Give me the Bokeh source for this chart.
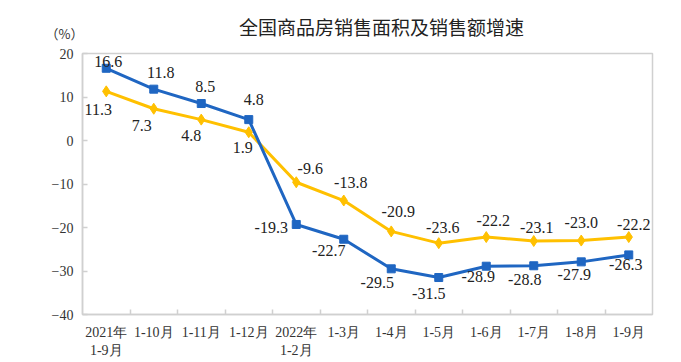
from bokeh.plotting import figure
from bokeh.models import Range1d, FixedTicker, ColumnDataSource, Label
from bokeh.embed import file_html
from bokeh.resources import INLINE
from bokeh.core.properties import value

# ---- data ----
categories = ["2021年\n1-9月", "1-10月", "1-11月", "1-12月", "2022年\n1-2月", "1-3月",
              "1-4月", "1-5月", "1-6月", "1-7月", "1-8月", "1-9月"]
area_growth = [16.6, 11.8, 8.5, 4.8, -19.3, -22.7, -29.5, -31.5, -28.9, -28.8, -27.9, -26.3]
sales_growth = [11.3, 7.3, 4.8, 1.9, -9.6, -13.8, -20.9, -23.6, -22.2, -23.1, -23.0, -22.2]
y_ticks = [-40, -30, -20, -10, 0, 10, 20]
title_text = "全国商品房销售面积及销售额增速"
unit_text = "（%）"

# ---- label placement (pixel offsets) ----
area_dx = [2, 7, 4, 5, -25, -15, -14, -10, -8, -9, -7, -3]
area_dy = [-7, -17, -17, -20, 3, 11, 14, 16, 10, 14, 13, 10]
sales_dx = [-8, -12, -10, -6, 14, 7, 7, 4, 7, 3, 0, 5]
sales_dy = [18, 17, 16, 15, -14, -18, -20, -16, -17, -13, -18, -13]

BLUE = "#1F66C2"
YELLOW = "#FFC000"
GRAY = "#d0d0d0"
SERIF = "Liberation Serif"

xs = [i + 0.5 for i in range(len(categories))]

p = figure(width=681, height=362, output_backend="svg", toolbar_location=None,
           x_range=Range1d(0, len(categories)), y_range=Range1d(min(y_ticks), max(y_ticks)),
           min_border_left=82, min_border_right=29, min_border_top=53, min_border_bottom=48)
p.background_fill_color = "white"
p.border_fill_color = "white"
p.outline_line_color = GRAY
p.outline_line_width = 1.5
p.xgrid.visible = False
p.ygrid.visible = False

# x axis: labels at category centres, ticks at category boundaries
p.xaxis.ticker = FixedTicker(ticks=xs, minor_ticks=list(range(1, len(categories))))
p.xaxis.major_label_overrides = {x: c for x, c in zip(xs, categories)}
p.xaxis.major_tick_line_color = None
p.xaxis.minor_tick_in = 5
p.xaxis.minor_tick_out = 0
p.xaxis.minor_tick_line_color = GRAY
p.xaxis.minor_tick_line_width = 1.5
p.xaxis.axis_line_color = GRAY
p.xaxis.axis_line_width = 1.5
p.xaxis.major_label_standoff = 4
p.xaxis.major_label_text_font = SERIF
p.xaxis.major_label_text_font_size = "14px"
p.xaxis.major_label_text_color = "#333333"

p.yaxis.ticker = FixedTicker(ticks=y_ticks, minor_ticks=[])
p.yaxis.major_tick_in = 5
p.yaxis.major_tick_out = 0
p.yaxis.major_tick_line_color = GRAY
p.yaxis.major_tick_line_width = 1.5
p.yaxis.axis_line_color = GRAY
p.yaxis.axis_line_width = 1.5
p.yaxis.major_label_standoff = 9
p.yaxis.major_label_text_font = SERIF
p.yaxis.major_label_text_font_size = "14px"
p.yaxis.major_label_text_color = "#333333"

src_a = ColumnDataSource(dict(x=xs, y=area_growth, t=[f"{v:.1f}" for v in area_growth],
                              dx=area_dx, dy=area_dy))
src_s = ColumnDataSource(dict(x=xs, y=sales_growth, t=[f"{v:.1f}" for v in sales_growth],
                              dx=sales_dx, dy=sales_dy))

p.line("x", "y", source=src_s, line_color=YELLOW, line_width=3)
p.scatter("x", "y", source=src_s, marker="diamond", size=11, fill_color=YELLOW, line_color=YELLOW)
p.line("x", "y", source=src_a, line_color=BLUE, line_width=3)
p.scatter("x", "y", source=src_a, marker="square", size=8, fill_color=BLUE, line_color=BLUE)

for src in (src_a, src_s):
    p.text("x", "y", text="t", source=src, x_offset="dx", y_offset="dy",
           text_font=value("Liberation Serif"), text_font_size="16px",
           text_color="#222222", text_align="center", text_baseline="middle")

# title and unit placed in the top margin (canvas pixel units)
p.add_layout(Label(x=381, y=26, x_units="canvas", y_units="canvas", text=title_text,
                   text_font="Noto Sans CJK SC", text_font_size="19px", text_color="#222222",
                   text_align="center", text_baseline="middle"), "above")
p.add_layout(Label(x=64, y=33, x_units="canvas", y_units="canvas", text=unit_text,
                   text_font="Noto Sans CJK SC", text_font_size="13px", text_color="#333333",
                   text_align="center", text_baseline="middle"), "above")

open("out.html", "w").write(file_html(p, INLINE))
